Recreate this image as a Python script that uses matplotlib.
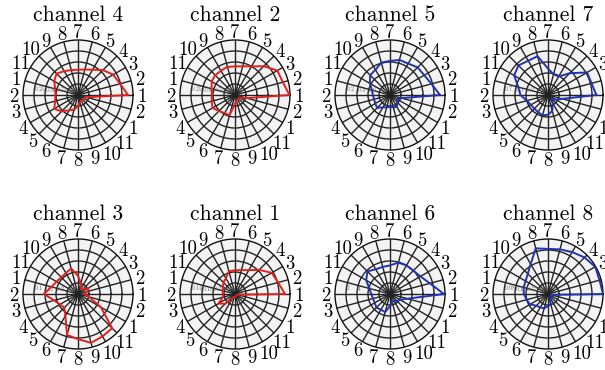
import matplotlib
matplotlib.use('Agg')
import matplotlib.pyplot as plt
import numpy as np

plt.rcParams['font.family'] = ['cmr10', 'DejaVu Serif']
plt.rcParams['axes.unicode_minus'] = False

# angular tick labels (24 spokes, every 15 degrees, counter-clockwise from the right)
angle_labels = ["1", "2", "3", "4", "5", "6", "7", "8", "9", "10", "11",
                "1", "2", "3", "4", "5", "6", "7", "8", "9", "10", "11",
                "1", "2"]

# radial values (fraction of the outer circle) at the 24 spokes
ch4 = [0.91, 0.79, 0.74, 0.64, 0.53, 0.48, 0.46, 0.47, 0.50, 0.55, 0.50, 0.43,
       0.41, 0.43, 0.50, 0.42, 0.32, 0.28, 0.20, 0.14, 0.12, 0.12, 0.14, 0.16]
ch2 = [0.99, 0.90, 0.89, 0.74, 0.60, 0.54, 0.52, 0.53, 0.51, 0.51, 0.49, 0.44,
       0.42, 0.44, 0.47, 0.41, 0.38, 0.38, 0.16, 0.10, 0.09, 0.10, 0.10, 0.22]
ch5 = [0.91, 0.78, 0.72, 0.71, 0.66, 0.66, 0.62, 0.61, 0.53, 0.51, 0.42, 0.34,
       0.31, 0.30, 0.31, 0.33, 0.26, 0.23, 0.22, 0.23, 0.25, 0.19, 0.15, 0.22]
ch7 = [0.88, 0.82, 0.82, 0.56, 0.39, 0.39, 0.48, 0.73, 0.72, 0.76, 0.71, 0.56,
       0.50, 0.40, 0.36, 0.35, 0.36, 0.38, 0.36, 0.30, 0.17, 0.10, 0.17, 0.27]
ch3 = [0.12, 0.18, 0.22, 0.12, 0.10, 0.20, 0.33, 0.48, 0.44, 0.43, 0.45, 0.50,
       0.62, 0.45, 0.38, 0.35, 0.46, 0.77, 0.82, 0.92, 0.89, 0.88, 0.48, 0.21]
ch1 = [0.91, 0.81, 0.77, 0.62, 0.50, 0.45, 0.43, 0.43, 0.33, 0.30, 0.25, 0.23,
       0.22, 0.23, 0.35, 0.25, 0.08, 0.05, 0.05, 0.04, 0.04, 0.04, 0.04, 0.05]
ch6 = [0.98, 0.75, 0.64, 0.60, 0.60, 0.59, 0.52, 0.51, 0.52, 0.58, 0.50, 0.39,
       0.34, 0.32, 0.32, 0.35, 0.33, 0.34, 0.22, 0.15, 0.14, 0.18, 0.21, 0.33]
ch8 = [1.00, 0.97, 0.99, 0.94, 0.88, 0.84, 0.82, 0.86, 0.63, 0.52, 0.47, 0.46,
       0.44, 0.40, 0.38, 0.30, 0.28, 0.27, 0.22, 0.19, 0.08, 0.06, 0.06, 0.06]

titles = ["channel 4", "channel 2", "channel 5", "channel 7",
          "channel 3", "channel 1", "channel 6", "channel 8"]
series = [ch4, ch2, ch5, ch7, ch3, ch1, ch6, ch8]
colors = ["#e0201e", "#e0201e", "#2233b0", "#2233b0",
          "#e0201e", "#e0201e", "#2233b0", "#2233b0"]

# radial tick labels (from inner ring to outer ring)
rtick_labels = [
    ["-1.00", "-0.75", "-0.50", "-0.25"],
    ["-1.00", "-0.75", "-0.50", "-0.25"],
    ["-0.8", "-0.6", "-0.4", "-0.2"],
    ["-0.1", "-0.3", "-0.5", "-0.7"],
    ["-0.4", "-0.3", "-0.2", "-0.1"],
    ["-0.26", "-0.22", "-0.18", "-0.14"],
    ["-8", "-6", "-4", "-2"],
    ["-0.14", "-0.12", "-0.10", "-0.08"],
]
rtick_pos = [0.2, 0.4, 0.6, 0.8]

W, H = 605, 370
fig = plt.figure(figsize=(W / 100, H / 100), dpi=100)

centers_x = [78, 235, 390, 548]
centers_y = [95, 294]
title_y = [15, 214]
R = 55

theta = np.deg2rad(np.arange(0, 360, 15))

for i in range(8):
    row, col = divmod(i, 4)
    cx, cy = centers_x[col], centers_y[row]
    rect = [(cx - R) / W, (H - cy - R) / H, 2 * R / W, 2 * R / H]
    ax = fig.add_axes(rect, projection='polar')
    ax.set_facecolor('#f3f3f3')
    vals = series[i]
    t = np.append(theta, theta[0])
    v = np.append(vals, vals[0])
    ax.plot(t, v, color=colors[i], linewidth=1.4, zorder=5)
    ax.set_ylim(0, 1)
    ax.set_xticks(theta)
    ax.set_xticklabels([])
    for th, lab in zip(theta, angle_labels):
        rr = 1.16 if len(lab) == 1 else 1.21
        ax.text(th, rr, lab, fontsize=13.5, ha='center', va='center_baseline',
                clip_on=False)
    ax.set_yticks(rtick_pos)
    ax.set_yticklabels(rtick_labels[i], fontsize=4, color='#666666')
    ax.set_rlabel_position(176)
    ax.grid(True, color='#222222', linewidth=1.0)
    ax.spines['polar'].set_color('#111111')
    ax.spines['polar'].set_linewidth(1.0)
    fig.text(cx / W, 1 - title_y[row] / H, titles[i], fontsize=15.5,
             ha='center', va='center')

fig.savefig('out.png', dpi=100)
